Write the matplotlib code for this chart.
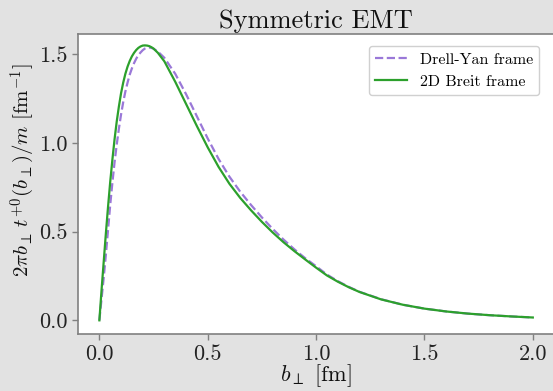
import matplotlib
matplotlib.use("Agg")
import matplotlib.pyplot as plt
import numpy as np

# ---- data ----
b_breit = [0.0, 0.01, 0.02, 0.03, 0.04, 0.05, 0.06, 0.07, 0.08, 0.09, 0.10, 0.11, 0.12,
           0.13, 0.14, 0.15, 0.16, 0.17, 0.18, 0.19, 0.20, 0.21, 0.22, 0.23, 0.24, 0.25,
           0.27, 0.30, 0.35, 0.40, 0.45, 0.50, 0.55, 0.60, 0.65, 0.70, 0.75, 0.80, 0.85,
           0.90, 0.95, 1.00, 1.05, 1.10, 1.15, 1.20, 1.30, 1.40, 1.50, 1.60, 1.70, 1.80,
           1.90, 2.00]
t_breit = [0.0, 0.17, 0.33, 0.49, 0.64, 0.78, 0.905, 1.02, 1.12, 1.205, 1.28, 1.34, 1.39,
           1.43, 1.462, 1.488, 1.508, 1.524, 1.536, 1.544, 1.549, 1.55, 1.549, 1.546, 1.54, 1.532,
           1.508, 1.46, 1.345, 1.22, 1.095, 0.975, 0.865, 0.77, 0.69, 0.62, 0.555, 0.495, 0.44,
           0.39, 0.343, 0.297, 0.253, 0.218, 0.187, 0.16, 0.118, 0.088, 0.066, 0.05, 0.038, 0.029,
           0.022, 0.016]

b_dy = [0.0, 0.01, 0.02, 0.03, 0.04, 0.05, 0.06, 0.07, 0.08, 0.09, 0.10, 0.11, 0.12,
        0.13, 0.14, 0.15, 0.16, 0.17, 0.18, 0.19, 0.20, 0.21, 0.22, 0.23, 0.24, 0.25,
        0.27, 0.30, 0.35, 0.40, 0.45, 0.50, 0.55, 0.60, 0.65, 0.70, 0.75, 0.80, 0.85,
        0.90, 0.95, 1.00, 1.05, 1.10, 1.15, 1.20, 1.30, 1.40, 1.50, 1.60, 1.70, 1.80,
        1.90, 2.00]
t_dy = [0.0, 0.12, 0.24, 0.37, 0.51, 0.65, 0.775, 0.89, 0.99, 1.08, 1.16, 1.23, 1.29,
        1.34, 1.385, 1.42, 1.45, 1.475, 1.495, 1.51, 1.523, 1.532, 1.537, 1.538, 1.536, 1.531,
        1.515, 1.48, 1.39, 1.275, 1.15, 1.025, 0.91, 0.81, 0.725, 0.65, 0.58, 0.515, 0.455,
        0.40, 0.35, 0.305, 0.258, 0.221, 0.189, 0.161, 0.119, 0.088, 0.066, 0.05, 0.038, 0.029,
        0.022, 0.016]

labels = ["Drell-Yan frame", "2D Breit frame"]
title = "Symmetric EMT"
xlabel = r"$b_\perp$ [fm]"
ylabel = r"$2\pi b_\perp\, t^{+0}(b_\perp)/m$ [fm$^{-1}$]"

plt.rcParams["font.family"] = "serif"
plt.rcParams["font.serif"] = ["cmr10"]
plt.rcParams["mathtext.fontset"] = "cm"
plt.rcParams["axes.formatter.use_mathtext"] = True

bg = "#e2e2e2"
fig = plt.figure(figsize=(5.53, 3.91), dpi=100, facecolor=bg)
ax = fig.add_axes([0.1405, 0.1458, 0.8622, 0.7685])
ax.set_facecolor("white")

ax.plot(b_dy, t_dy, linestyle="--", color="#9a78d8", lw=1.6, label=labels[0])
ax.plot(b_breit, t_breit, linestyle="-", color="#2ca02c", lw=1.6, label=labels[1])

ax.set_xlim(-0.1, 2.1)
ax.set_ylim(-0.077, 1.617)
ax.set_xticks([0.0, 0.5, 1.0, 1.5, 2.0])
ax.set_yticks([0.0, 0.5, 1.0, 1.5])
ax.xaxis.set_major_formatter(matplotlib.ticker.FormatStrFormatter("%.1f"))
ax.yaxis.set_major_formatter(matplotlib.ticker.FormatStrFormatter("%.1f"))

for s in ax.spines.values():
    s.set_color("#808080")
    s.set_linewidth(1.2)
ax.tick_params(colors="#808080", labelcolor="#222222", labelsize=16, length=4, width=1)

ax.set_title(title, fontsize=19, color="#111111", pad=4)
ax.set_xlabel(xlabel, fontsize=16, color="#111111", labelpad=-1)
ax.set_ylabel(ylabel, fontsize=15, color="#111111")
ax.yaxis.set_label_coords(-0.085, 0.545)

leg = ax.legend(loc="upper right", fontsize=11.5, frameon=True, fancybox=True,
                edgecolor="#d0d0d0", framealpha=1.0, bbox_to_anchor=(0.985, 0.985))

fig.savefig("out.png", dpi=100, facecolor=bg)
